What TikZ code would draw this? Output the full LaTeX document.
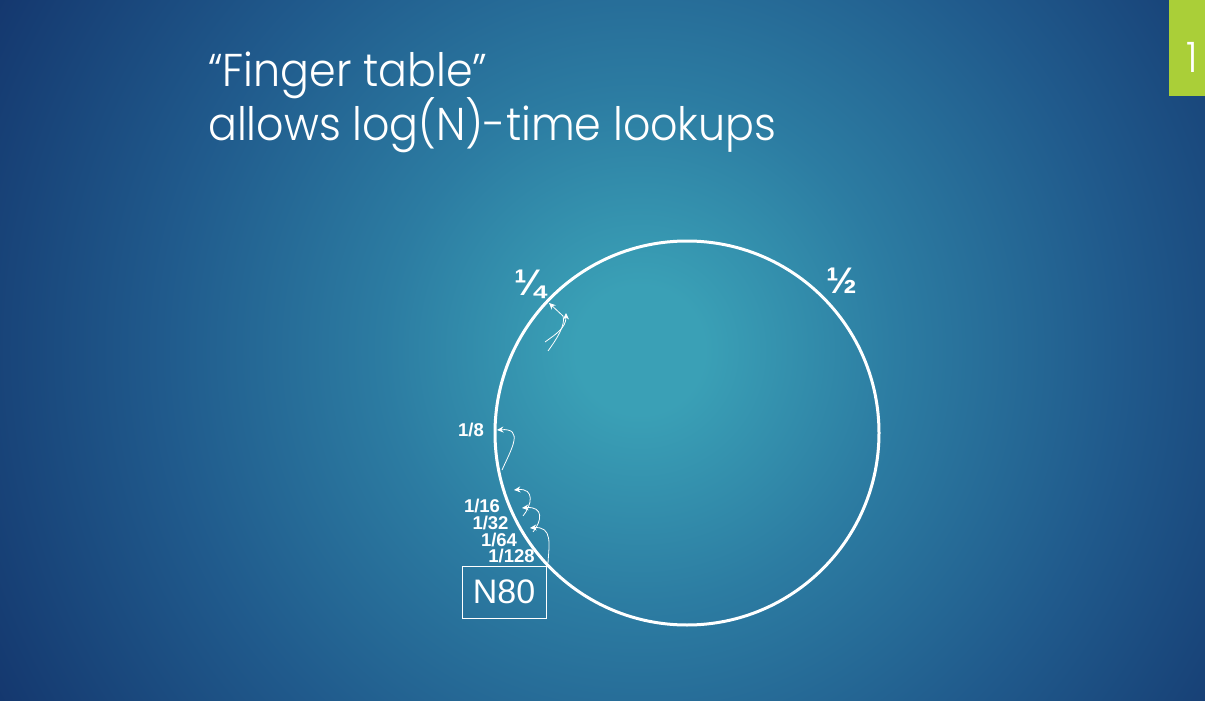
\documentclass[tikz,border=0pt]{standalone}
\usepackage{fontspec}
\setmainfont{Liberation Sans}
\newfontfamily\titlefont{Poppins}[UprightFont={* Light}, FakeStretch=0.93]
\usetikzlibrary{arrows.meta}
\definecolor{bgA}{RGB}{58,160,182}
\definecolor{bgB}{RGB}{44,124,162}
\definecolor{bgC}{RGB}{32,90,140}
\definecolor{bgD}{RGB}{20,55,110}
\definecolor{tabgreen}{RGB}{170,207,56}
\pgfdeclareradialshading{bgshade}{\pgfpoint{0bp}{0bp}}{color(0bp)=(bgA); color(2bp)=(bgA); color(8bp)=(bgB); color(15bp)=(bgC); color(23bp)=(bgD); color(50bp)=(bgD)}
\begin{document}
\begin{tikzpicture}[x=1pt,y=-1pt,
  titletext/.style={anchor=base west, text=white, inner sep=0pt, font=\titlefont\fontsize{46}{50}\selectfont},
  fraclabel/.style={text=white, inner sep=0pt, font=\bfseries\fontsize{18.5}{20}\selectfont},
  biglabel/.style={text=white, inner sep=0pt, font=\bfseries\fontsize{37}{40}\selectfont},
  fing/.style={white, line width=0.8pt, -{Stealth[length=6.5pt,width=6pt]}},
  ring/.style={circle, draw=white, line width=3pt, minimum size=384pt, inner sep=0pt}
]
\useasboundingbox (0,0) rectangle (1205,701);
\begin{scope}
  \clip (0,0) rectangle (1205,701);
  \shade[shading=bgshade] (640,350) circle (800);
\end{scope}

% slide number tab
\node[fill=tabgreen, minimum width=36pt, minimum height=96pt, anchor=north west, inner sep=0pt] (tab) at (1169,0) {};
\node[anchor=base west, text=white, inner sep=0pt, font=\titlefont\fontsize{42}{44}\selectfont] (num) at (1186,73) {1};

% title
\node[titletext] (t1) at (208,87) {“Finger table”};
\node[titletext] (t2) at (208,140) {allows log(N)-time lookups};

% ring
\node[ring] (ring) at (687,433) {};

% labels
\node[biglabel] (quarter) at (530,284) {¼};
\node[biglabel] (half) at (842,281) {½};
\node[fraclabel] (l8) at (471,430) {1/8};
\node[fraclabel] (l16) at (482,506) {1/16};
\node[fraclabel] (l32) at (490.5,522.5) {1/32};
\node[fraclabel] (l64) at (499,539.5) {1/64};
\node[fraclabel] (l128) at (511.5,556) {1/128};

% N80 box
\node[draw=white, line width=1pt, minimum width=84pt, minimum height=52pt, inner sep=0pt, text=white, font=\fontsize{34}{36}\selectfont] (n80) at (504,592) {N80};

% finger arrows
\coordinate (a8s) at (502,470); \coordinate (a8e) at (497,430);
\draw[fing] (a8s) .. controls (512,448) and (524,428) .. (a8e);
\coordinate (a16s) at (523,516); \coordinate (a16e) at (514,490);
\draw[fing] (a16s) .. controls (532,505) and (535,488) .. (a16e);
\coordinate (a32s) at (533,532); \coordinate (a32e) at (522,508);
\draw[fing] (a32s) .. controls (542,521) and (544,506) .. (a32e);
\coordinate (a64s) at (548,563); \coordinate (a64e) at (530,528);
\draw[fing] (a64s) .. controls (549,545) and (553,526) .. (a64e);
\coordinate (q1s) at (545,342); \coordinate (q1e) at (566,313);
\draw[fing] (q1s) .. controls (556,334) and (566,328) .. (q1e);
\coordinate (q2s) at (548,351); \coordinate (q2b) at (563,316); \coordinate (q2e) at (549,303);
\draw[fing] (q2s) .. controls (556,340) and (566,325) .. (q2b) -- (q2e);
\end{tikzpicture}
\end{document}
